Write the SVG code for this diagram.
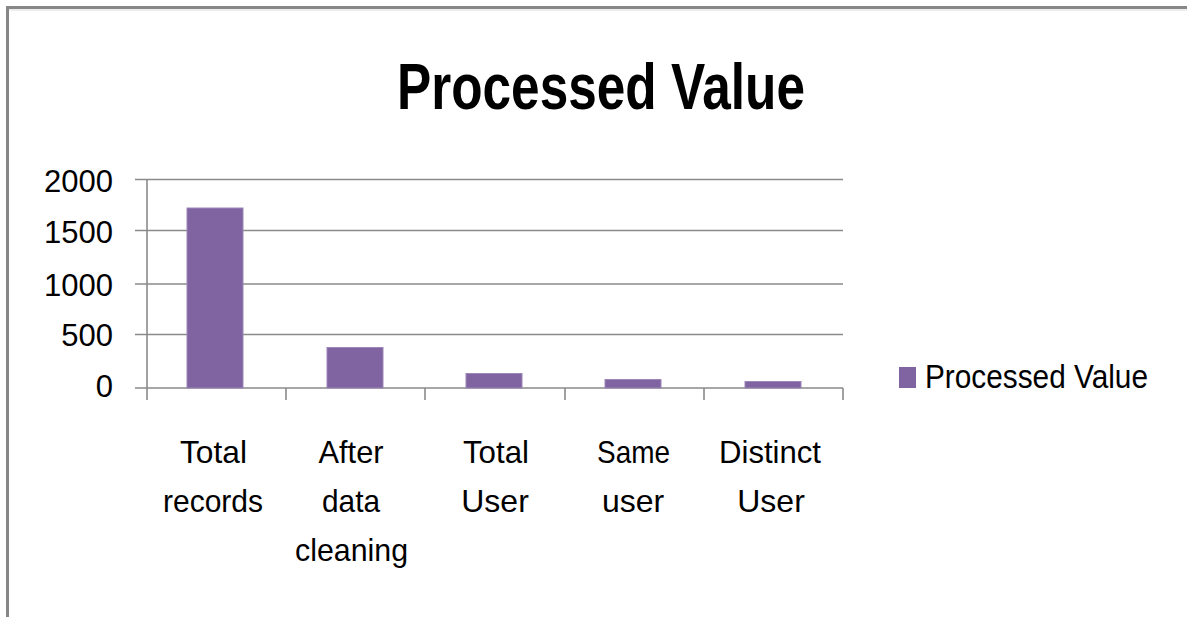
<svg xmlns="http://www.w3.org/2000/svg" width="1187" height="617" viewBox="0 0 1187 617">
<style>
.t{font-family:"Liberation Sans",Arial,sans-serif;fill:#000}
.title{font-size:64px;font-weight:bold}
.ylab{font-size:31px;text-anchor:end}
.cat{font-size:32px;text-anchor:middle}
.leg{font-size:33px}
.grid{stroke:#8a8a8a;stroke-width:1.6;fill:none}
.bar{fill:#8064A2;stroke:#9d86b8;stroke-width:1}
</style>
<rect width="1187" height="617" fill="#fff"/>
<path d="M7.5,617 V7.5 H1187" fill="none" stroke="#878787" stroke-width="3"/>
<path d="M9,10 H1187" stroke="#dcdcdc" stroke-width="1"/>
<g id="title"><text class="t title" x="397" y="109" textLength="408" lengthAdjust="spacingAndGlyphs">Processed Value</text></g>
<g id="axes">
<path class="grid" d="M135,179.5 H843 M135,230.5 H843 M135,284 H843 M135,334.5 H843 M135,388 H843"/>
<path class="grid" d="M147,179.5 V400 M286,388 V400 M425,388 V400 M565,388 V400 M704,388 V400 M843,388 V400"/>
</g>
<g id="ylabels">
<text class="t ylab" x="113" y="192">2000</text>
<text class="t ylab" x="113" y="243">1500</text>
<text class="t ylab" x="113" y="296">1000</text>
<text class="t ylab" x="113" y="346">500</text>
<text class="t ylab" x="113" y="397">0</text>
</g>
<g id="bars">
<rect class="bar" x="187" y="208" width="56" height="180"/>
<rect class="bar" x="327" y="347.5" width="56" height="40.5"/>
<rect class="bar" x="466" y="373.5" width="56" height="14.5"/>
<rect class="bar" x="605" y="379.5" width="56" height="8.5"/>
<rect class="bar" x="745" y="381.5" width="56" height="6.5"/>
</g>
<g id="categories">
<text class="t cat" x="213.5" y="463" textLength="67" lengthAdjust="spacingAndGlyphs">Total</text>
<text class="t cat" x="213" y="512" textLength="100" lengthAdjust="spacingAndGlyphs">records</text>
<text class="t cat" x="351" y="463" textLength="65" lengthAdjust="spacingAndGlyphs">After</text>
<text class="t cat" x="351" y="512" textLength="58" lengthAdjust="spacingAndGlyphs">data</text>
<text class="t cat" x="351.5" y="561" textLength="113" lengthAdjust="spacingAndGlyphs">cleaning</text>
<text class="t cat" x="496" y="463" textLength="66" lengthAdjust="spacingAndGlyphs">Total</text>
<text class="t cat" x="495" y="512">User</text>
<text class="t cat" x="633.5" y="463" textLength="73" lengthAdjust="spacingAndGlyphs">Same</text>
<text class="t cat" x="633" y="512">user</text>
<text class="t cat" x="770" y="463" textLength="102" lengthAdjust="spacingAndGlyphs">Distinct</text>
<text class="t cat" x="771" y="512">User</text>
</g>
<g id="legend">
<rect x="899" y="367" width="17" height="21" fill="#8064A2"/>
<text class="t leg" x="925" y="388" textLength="223" lengthAdjust="spacingAndGlyphs">Processed Value</text>
</g>
</svg>
